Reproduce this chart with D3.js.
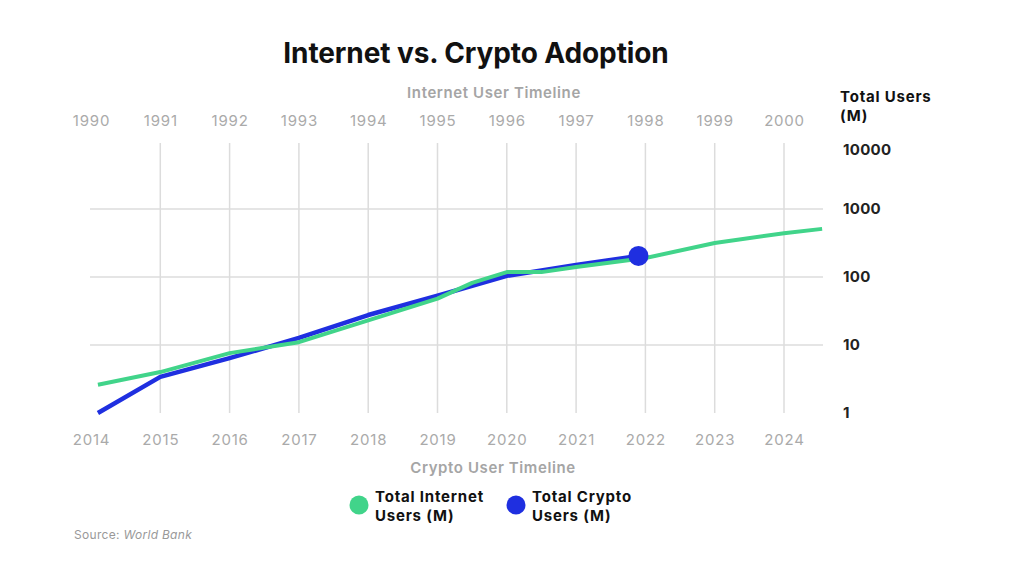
<!DOCTYPE html>
<html><head><meta charset="utf-8">
<script src="https://cdn.jsdelivr.net/npm/d3@7/dist/d3.min.js"></script>
<style>
html,body{margin:0;padding:0;background:#fff;}
svg{display:block;font-family:Inter,"Noto Sans",sans-serif;}
</style></head>
<body>
<svg id="chart" width="1024" height="566"></svg>
<script>
const internetYearLabels = [1990,1991,1992,1993,1994,1995,1996,1997,1998,1999,2000];
const cryptoYearLabels = [2014,2015,2016,2017,2018,2019,2020,2021,2022,2023,2024];
const userTicks = [1,10,100,1000,10000];
// positions on the crypto-year axis (internet year = crypto year - 24)
const internetX = [2014.1,2015,2016,2017,2018,2019,2019.5,2020,2020.5,2021,2022,2023,2024,2024.55];
const internetUsers = [2.6,4.0,7.6,11,23,48,82,118,118,140,190,316,440,510];
const cryptoX = [2014.1,2015,2016,2017,2018,2019,2020,2021,2021.9];
const cryptoUsers = [1.0,3.4,6.4,12.7,27.6,53,104,150,204];

const green = "#41d48a", blue = "#1f2fe0";
const svg = d3.select("#chart");
const x = d3.scaleLinear().domain([2014,2024]).range([91,784]);
const xTop = d3.scaleLinear().domain([1990,2000]).range([91,784]);
const y = d3.scaleLog().domain([1,10000]).range([413,141]);

// grid
const g = svg.append("g");
g.selectAll("line.v").data(cryptoYearLabels.slice(1)).join("line")
  .attr("x1",d=>x(d)).attr("x2",d=>x(d)).attr("y1",143).attr("y2",413)
  .attr("stroke","#dcdcdc").attr("stroke-width",1.5);
g.selectAll("line.h").data([10,100,1000]).join("line")
  .attr("x1",90).attr("x2",823).attr("y1",d=>y(d)).attr("y2",d=>y(d))
  .attr("stroke","#dcdcdc").attr("stroke-width",1.5);

// top axis
const topAxis = d3.axisTop(xTop).tickValues(internetYearLabels).tickFormat(d3.format("d")).tickSize(0);
svg.append("g").attr("transform","translate(0,129)").call(topAxis)
  .call(s=>s.select(".domain").remove())
  .call(s=>s.selectAll("text").attr("fill","#aaa").attr("font-size",15).attr("letter-spacing",0.8).attr("font-family","Inter"));
// bottom axis
const botAxis = d3.axisBottom(x).tickValues(cryptoYearLabels).tickFormat(d3.format("d")).tickSize(0);
svg.append("g").attr("transform","translate(0,431)").call(botAxis)
  .call(s=>s.select(".domain").remove())
  .call(s=>s.selectAll("text").attr("fill","#aaa").attr("font-size",15).attr("letter-spacing",0.8).attr("font-family","Inter"));
// right axis labels
svg.selectAll("text.ry").data(userTicks).join("text")
  .attr("x",843).attr("y",d=>Math.max(y(d),150)+5)
  .attr("font-size",15).attr("font-weight",700).attr("fill","#222").attr("letter-spacing",0.3)
  .text(d=>d);
svg.append("text").attr("x",840).attr("y",102).attr("font-size",15).attr("font-weight",700).attr("fill","#111").attr("letter-spacing",0.8).text("Total Users");
svg.append("text").attr("x",840).attr("y",121).attr("font-size",15).attr("font-weight",700).attr("fill","#111").attr("letter-spacing",0.8).text("(M)");

// titles
svg.append("text").attr("x",476).attr("y",63).attr("text-anchor","middle")
  .attr("font-size",28).attr("font-weight",700).attr("fill","#111").attr("letter-spacing",-0.1)
  .text("Internet vs. Crypto Adoption");
svg.append("text").attr("x",494).attr("y",98).attr("text-anchor","middle")
  .attr("font-size",15).attr("font-weight",600).attr("fill","#a5a5a5").attr("letter-spacing",0.6).text("Internet User Timeline");
svg.append("text").attr("x",493).attr("y",473).attr("text-anchor","middle")
  .attr("font-size",15).attr("font-weight",600).attr("fill","#a5a5a5").attr("letter-spacing",0.6).text("Crypto User Timeline");

// lines
const line = d3.line().x(d=>x(d[0])).y(d=>y(d[1]));
svg.append("path").datum(cryptoX.map((d,i)=>[d,cryptoUsers[i]]))
  .attr("d",line).attr("fill","none").attr("stroke",blue).attr("stroke-width",4.5).attr("stroke-linejoin","round");
svg.append("path").datum(internetX.map((d,i)=>[d,internetUsers[i]]))
  .attr("d",line).attr("fill","none").attr("stroke",green).attr("stroke-width",4).attr("stroke-linejoin","round");
const last = cryptoX.length-1;
svg.append("circle").attr("cx",x(cryptoX[last])).attr("cy",y(cryptoUsers[last])).attr("r",10).attr("fill",blue);

// legend
const legend = [{c:green,t:["Total Internet","Users (M)"],x:359},{c:blue,t:["Total Crypto","Users (M)"],x:516}];
legend.forEach(l=>{
  svg.append("circle").attr("cx",l.x).attr("cy",505).attr("r",9.5).attr("fill",l.c);
  l.t.forEach((t,i)=>svg.append("text").attr("x",l.x+16).attr("y",502+i*19)
    .attr("font-size",15).attr("font-weight",700).attr("fill","#111").attr("letter-spacing",0.8).text(t));
});

// source
const src = svg.append("text").attr("x",74).attr("y",539).attr("font-size",12).attr("fill","#999").attr("letter-spacing",0.3);
src.append("tspan").text("Source: ");
src.append("tspan").attr("font-style","italic").text("World Bank");
</script>
</body></html>
